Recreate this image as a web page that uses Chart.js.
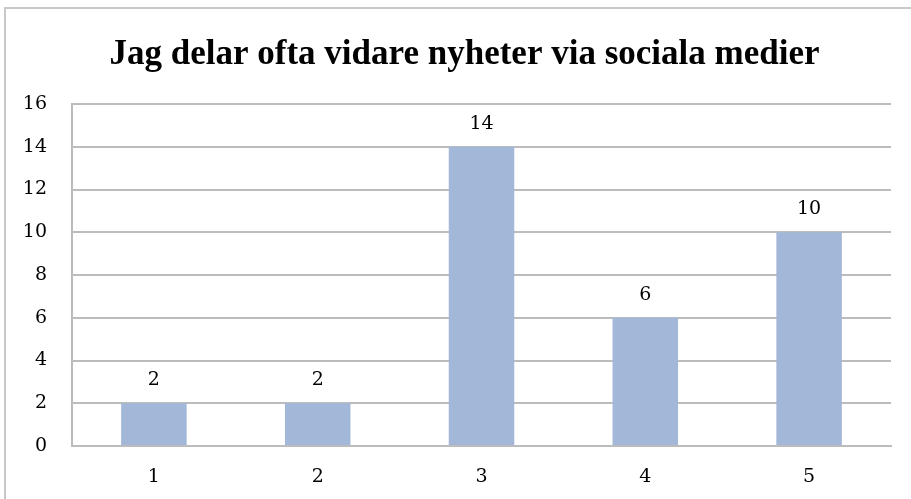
<!DOCTYPE html>
<html>
<head>
<meta charset="utf-8">
<script src="https://cdn.jsdelivr.net/npm/chart.js@4"></script>
<style>
  html, body { margin: 0; padding: 0; background: #fff; overflow: hidden; }
  #frame { position: absolute; left: 4px; top: 7px; width: 1000px; height: 600px; border-left: 2px solid #c8c8c8; border-top: 2px solid #c8c8c8; }
  #wrap { position: absolute; left: 0; top: 0; width: 911px; height: 499px; }
</style>
</head>
<body>
<div id="frame"></div>
<div id="wrap"><canvas id="c" width="911" height="499"></canvas></div>
<script>
const titleText = 'Jag delar ofta vidare nyheter via sociala medier';
const categories = ['1', '2', '3', '4', '5'];
const values = [2, 2, 14, 6, 10];
const yTicks = [0, 2, 4, 6, 8, 10, 12, 14, 16];

const serif = "'Liberation Serif', 'DejaVu Serif', serif";
const labelFont = "'DejaVu Serif', 'Liberation Serif', serif";

const labelPlugin = {
  id: 'barLabels',
  afterLayout(chart) {
    if (chart.titleBlock) {
      chart.titleBlock.left += 13;
      chart.titleBlock.right += 13;
    }
  },
  afterDatasetsDraw(chart) {
    const ctx = chart.ctx;
    const meta = chart.getDatasetMeta(0);
    ctx.save();
    ctx.fillStyle = '#000';
    ctx.font = '19px ' + labelFont;
    ctx.textAlign = 'center';
    ctx.textBaseline = 'middle';
    meta.data.forEach((bar, i) => {
      ctx.fillText(String(values[i]), bar.x, bar.y - 23);
    });
    ctx.restore();
  }
};

new Chart(document.getElementById('c'), {
  type: 'bar',
  data: {
    labels: categories,
    datasets: [{
      data: values,
      backgroundColor: '#a3b7d8',
      borderWidth: 0,
      barPercentage: 0.4,
      categoryPercentage: 1.0
    }]
  },
  options: {
    responsive: false,
    animation: false,
    devicePixelRatio: 1,
    layout: { padding: { left: 12, right: 20, top: 0, bottom: 0 } },
    plugins: {
      legend: { display: false },
      tooltip: { enabled: false },
      title: {
        display: true,
        text: titleText,
        color: '#000',
        font: { family: serif, size: 35, weight: 'bold', lineHeight: 1.2 },
        padding: { top: 34, bottom: 28 }
      }
    },
    scales: {
      x: {
        afterFit(scale) { scale.height = 53; },
        grid: { display: false, drawTicks: false },
        border: { display: true, color: '#bcbcbc', width: 2 },
        ticks: { color: '#000', font: { family: labelFont, size: 19 }, padding: 20 }
      },
      y: {
        min: 0,
        max: 16,
        afterFit(scale) { scale.width = 60; },
        afterBuildTicks(scale) { scale.ticks = yTicks.map(v => ({ value: v })); },
        grid: { color: '#bcbcbc', lineWidth: 2, drawTicks: false },
        border: { display: true, color: '#bcbcbc', width: 2 },
        ticks: { color: '#000', font: { family: labelFont, size: 19 }, padding: 25 }
      }
    }
  },
  plugins: [labelPlugin]
});
</script>
</body>
</html>
